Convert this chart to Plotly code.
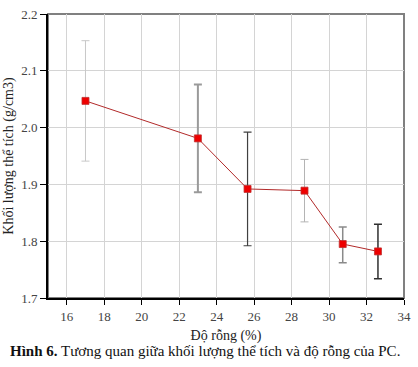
import plotly.graph_objects as go

porosity = [17.0, 23.0, 25.65, 28.69, 30.73, 32.61]
density = [2.047, 1.981, 1.892, 1.889, 1.795, 1.782]
err_up = [0.106, 0.095, 0.100, 0.055, 0.030, 0.048]
err_down = [0.106, 0.095, 0.100, 0.055, 0.033, 0.048]
err_colors = ["#c8c8c8", "#9a9a9a", "#404040", "#b4b4b4", "#8a8a8a", "#303030"]
err_widths = [1, 2, 1.2, 1, 1.5, 1.5]

x_ticks = [16, 18, 20, 22, 24, 26, 28, 30, 32, 34]
y_ticks = [1.7, 1.8, 1.9, 2.0, 2.1, 2.2]

font_family = "Liberation Serif, Times New Roman, serif"

fig = go.Figure()

for i in range(len(porosity)):
    fig.add_trace(go.Scatter(
        x=[porosity[i]], y=[density[i]], mode="markers",
        marker=dict(size=1, color="rgba(0,0,0,0)"),
        error_y=dict(type="data", symmetric=False, array=[err_up[i]], arrayminus=[err_down[i]],
                     color=err_colors[i], thickness=err_widths[i], width=4),
        showlegend=False, hoverinfo="skip"))

fig.add_trace(go.Scatter(
    x=porosity, y=density, mode="lines+markers",
    line=dict(color="#b22a2a", width=1),
    marker=dict(symbol="square", size=7, color="#ee0000", line=dict(color="#c03030", width=0.8)),
    showlegend=False))

fig.add_shape(type="rect", xref="paper", yref="paper", x0=0, y0=0, x1=1, y1=1,
              line=dict(color="#808080", width=2), layer="below")

fig.update_xaxes(range=[15, 34], tickvals=x_ticks, ticktext=[str(v) for v in x_ticks],
                 showgrid=True, gridcolor="#d4d4d4", gridwidth=1,
                 showline=True, linecolor="black", linewidth=2,
                 ticks="outside", ticklen=5, tickcolor="black", zeroline=False,
                 ticklabeloverflow="allow",
                 tickfont=dict(family=font_family, size=13, color="#444"),
                 title=dict(text="Độ rỗng (%)", font=dict(family=font_family, size=14, color="#222"), standoff=8))
fig.update_yaxes(range=[1.7, 2.2], tickvals=y_ticks, ticktext=[f"{v:.1f}" for v in y_ticks],
                 showgrid=True, gridcolor="#d4d4d4", gridwidth=1,
                 showline=True, linecolor="black", linewidth=2,
                 ticks="outside", ticklen=6, tickcolor="black", zeroline=False,
                 ticklabeloverflow="allow",
                 tickfont=dict(family=font_family, size=13, color="#444"),
                 title=dict(text="Khối lượng thể tích (g/cm3)", font=dict(family=font_family, size=14, color="#222"), standoff=4))

fig.add_annotation(xref="paper", x=0.442, xanchor="center", yref="paper", y=-0.15, yanchor="top",
                   text="<b>Hình 6.</b> Tương quan giữa khối lượng thể tích và độ rỗng của PC.",
                   showarrow=False, font=dict(family=font_family, size=15, color="#111"))

fig.update_layout(width=418, height=367, margin=dict(l=46, r=8, t=7, b=69),
                  plot_bgcolor="white", paper_bgcolor="white")

fig.write_html("out.html", config={"displayModeBar": False},
               post_script="document.body.style.margin='0';document.body.style.padding='0';")
